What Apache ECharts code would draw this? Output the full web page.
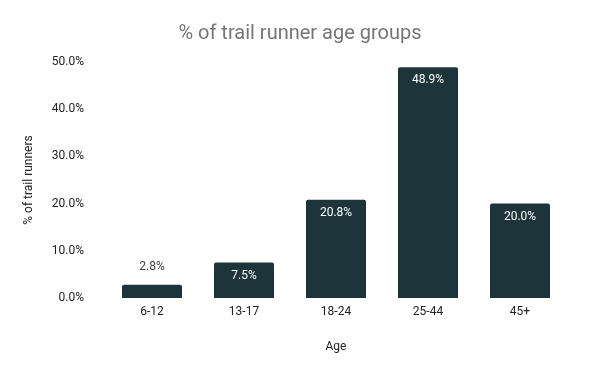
<!DOCTYPE html>
<html>
<head>
<meta charset="utf-8">
<script src="https://cdn.jsdelivr.net/npm/echarts@6/dist/echarts.min.js"></script>
<style>html,body{margin:0;padding:0;background:#fff}#c{width:600px;height:371px}</style>
</head>
<body>
<div id="c"></div>
<script>
const categories = ['6-12', '13-17', '18-24', '25-44', '45+'];
const values = [2.8, 7.5, 20.8, 48.9, 20.0];
const yTicks = [0, 10, 20, 30, 40, 50];

const chart = echarts.init(document.getElementById('c'), null, {renderer: 'canvas'});
const font = 'Roboto, sans-serif';
const data = values.map(v => ({
  value: v,
  label: v < 5
    ? {position: 'top', color: '#444', distance: 12}
    : {position: 'insideTop', color: '#fff', distance: 7}
}));
chart.setOption({
  animation: false,
  title: {
    text: '% of trail runner age groups',
    left: 'center', top: 19,
    textStyle: {fontFamily: font, fontSize: 20, fontWeight: 'normal', color: '#757575'}
  },
  grid: {left: 106, right: 34, top: 62, bottom: 73, containLabel: false},
  xAxis: {
    type: 'category', data: categories,
    axisLine: {show: false}, axisTick: {show: false},
    axisLabel: {fontFamily: font, fontSize: 12, color: '#222', margin: 8},
    name: 'Age', nameLocation: 'middle', nameGap: 43,
    nameTextStyle: {fontFamily: font, fontSize: 12, color: '#222'}
  },
  yAxis: {
    type: 'value', min: yTicks[0], max: yTicks[yTicks.length - 1], interval: 10,
    splitLine: {show: false}, axisLine: {show: false}, axisTick: {show: false},
    axisLabel: {fontFamily: font, fontSize: 12, color: '#222', margin: 22,
      formatter: v => v.toFixed(1) + '%'},
    name: '% of trail runners', nameLocation: 'middle', nameGap: 71, nameRotate: 90,
    nameTextStyle: {fontFamily: font, fontSize: 12, color: '#222'}
  },
  series: [{
    type: 'bar', data: data, barWidth: 60,
    itemStyle: {color: '#1d343a', borderRadius: [2, 2, 0, 0]},
    label: {show: true, fontFamily: font, fontSize: 12, formatter: p => p.value.toFixed(1) + '%'}
  }]
});
</script>
</body>
</html>
